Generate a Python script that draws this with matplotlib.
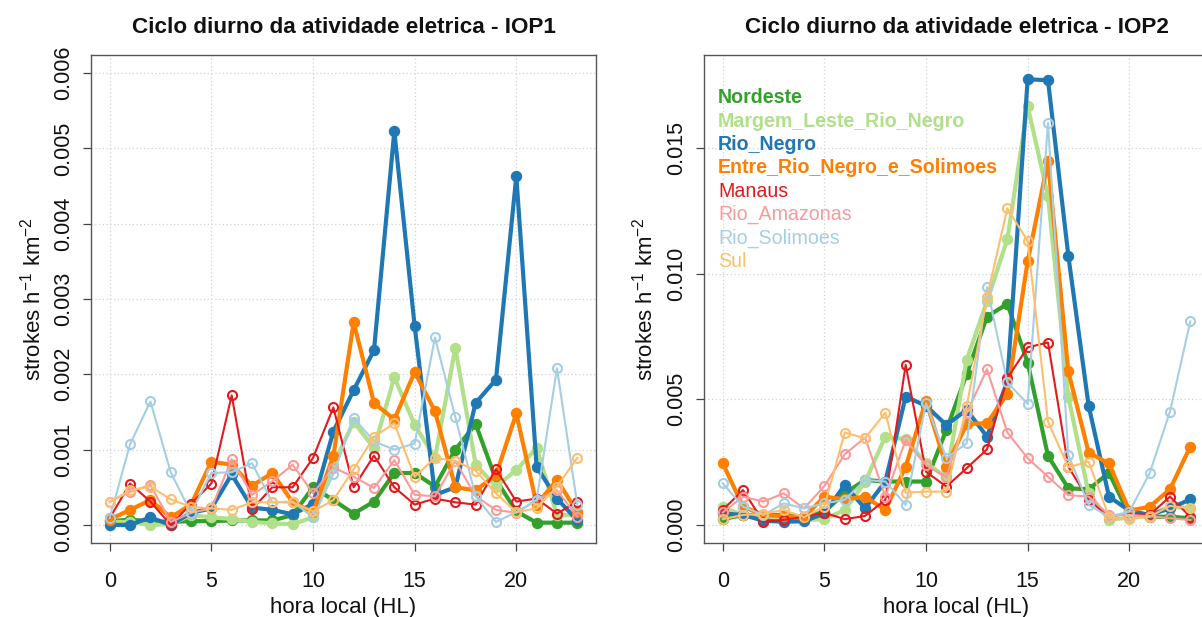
import numpy as np
import matplotlib
matplotlib.use('Agg')
import matplotlib.pyplot as plt

plt.rcParams['font.family'] = ['Liberation Sans', 'DejaVu Sans']
plt.rcParams['mathtext.default'] = 'regular'

# horas locais
horas = list(range(24))

regioes = ['Nordeste', 'Margem_Leste_Rio_Negro', 'Rio_Negro',
           'Entre_Rio_Negro_e_Solimoes', 'Manaus', 'Rio_Amazonas',
           'Rio_Solimoes', 'Sul']
cores = ['#33A02C', '#B2DF8A', '#1F78B4', '#FF7F00',
         '#E31A1C', '#FB9A99', '#A6CEE3', '#FDBF6F']

# IOP1 (strokes h-1 km-2)
iop1_nordeste = [0.00005, 0.00007, 0.00005, 0.00004, 0.00005, 0.00005, 0.00006, 0.00006,
                 0.00006, 0.00013, 0.00050, 0.00033, 0.00015, 0.00031, 0.00069, 0.00069,
                 0.00051, 0.00100, 0.00134, 0.00060, 0.00018, 0.00003, 0.00003, 0.00003]
iop1_margem = [0.00004, 0.00004, 0.00000, 0.00001, 0.00013, 0.00010, 0.00008, 0.00004,
               0.00002, 0.00001, 0.00010, 0.00080, 0.00137, 0.00102, 0.00196, 0.00133,
               0.00089, 0.00235, 0.00080, 0.00051, 0.00073, 0.00102, 0.00013, 0.00013]
iop1_rio_negro = [0.00000, 0.00000, 0.00010, 0.00000, 0.00016, 0.00022, 0.00067, 0.00023,
                  0.00020, 0.00014, 0.00028, 0.00124, 0.00179, 0.00232, 0.00523, 0.00264,
                  0.00040, 0.00050, 0.00162, 0.00193, 0.00463, 0.00077, 0.00035, 0.00006]
iop1_entre = [0.00007, 0.00020, 0.00033, 0.00010, 0.00027, 0.00084, 0.00080, 0.00052,
              0.00069, 0.00030, 0.00017, 0.00091, 0.00269, 0.00162, 0.00140, 0.00203,
              0.00151, 0.00050, 0.00046, 0.00066, 0.00148, 0.00027, 0.00060, 0.00017]
iop1_manaus = [0.00009, 0.00055, 0.00031, 0.00000, 0.00028, 0.00055, 0.00172, 0.00021,
               0.00050, 0.00050, 0.00089, 0.00156, 0.00050, 0.00092, 0.00050, 0.00027,
               0.00035, 0.00030, 0.00027, 0.00074, 0.00031, 0.00035, 0.00015, 0.00031]
iop1_amazonas = [0.00031, 0.00044, 0.00053, 0.00004, 0.00016, 0.00022, 0.00087, 0.00040,
                 0.00058, 0.00080, 0.00042, 0.00076, 0.00064, 0.00049, 0.00086, 0.00040,
                 0.00038, 0.00085, 0.00038, 0.00020, 0.00016, 0.00033, 0.00046, 0.00011]
iop1_solimoes = [0.00009, 0.00107, 0.00164, 0.00070, 0.00016, 0.00069, 0.00070, 0.00082,
                 0.00030, 0.00031, 0.00010, 0.00067, 0.00142, 0.00111, 0.00100, 0.00108,
                 0.00249, 0.00143, 0.00038, 0.00004, 0.00017, 0.00033, 0.00208, 0.00027]
iop1_sul = [0.00030, 0.00046, 0.00051, 0.00034, 0.00024, 0.00022, 0.00020, 0.00030,
            0.00030, 0.00030, 0.00018, 0.00033, 0.00074, 0.00117, 0.00135, 0.00064,
            0.00089, 0.00085, 0.00072, 0.00042, 0.00017, 0.00022, 0.00051, 0.00089]

# IOP2
iop2_nordeste = [0.00023, 0.00040, 0.00040, 0.00040, 0.00030, 0.00053, 0.00126, 0.00179,
                 0.00173, 0.00173, 0.00173, 0.00378, 0.00600, 0.00829, 0.00880, 0.00646,
                 0.00275, 0.00146, 0.00142, 0.00208, 0.00040, 0.00033, 0.00033, 0.00027]
iop2_margem = [0.00070, 0.00040, 0.00030, 0.00030, 0.00020, 0.00023, 0.00060, 0.00170,
               0.00352, 0.00341, 0.00245, 0.00192, 0.00657, 0.00890, 0.01137, 0.01667,
               0.01308, 0.00510, 0.00126, 0.00020, 0.00030, 0.00040, 0.00073, 0.00066]
iop2_rio_negro = [0.00046, 0.00040, 0.00017, 0.00013, 0.00015, 0.00046, 0.00159, 0.00066,
                  0.00173, 0.00511, 0.00474, 0.00398, 0.00458, 0.00352, 0.00571, 0.01773,
                  0.01770, 0.01072, 0.00474, 0.00113, 0.00057, 0.00040, 0.00066, 0.00102]
iop2_entre = [0.00246, 0.00073, 0.00040, 0.00035, 0.00031, 0.00113, 0.00102, 0.00113,
              0.00060, 0.00232, 0.00495, 0.00232, 0.00402, 0.00405, 0.00522, 0.01049,
              0.01448, 0.00611, 0.00288, 0.00245, 0.00057, 0.00073, 0.00142, 0.00312]
iop2_manaus = [0.00060, 0.00139, 0.00013, 0.00020, 0.00033, 0.00049, 0.00023, 0.00036,
               0.00100, 0.00637, 0.00212, 0.00153, 0.00226, 0.00301, 0.00584, 0.00707,
               0.00726, 0.00232, 0.00100, 0.00033, 0.00046, 0.00040, 0.00113, 0.00033]
iop2_amazonas = [0.00050, 0.00113, 0.00093, 0.00126, 0.00066, 0.00155, 0.00281, 0.00348,
                 0.00113, 0.00338, 0.00239, 0.00190, 0.00445, 0.00620, 0.00368, 0.00266,
                 0.00192, 0.00119, 0.00113, 0.00040, 0.00040, 0.00035, 0.00027, 0.00020]
iop2_solimoes = [0.00166, 0.00073, 0.00040, 0.00086, 0.00066, 0.00086, 0.00100, 0.00179,
                 0.00173, 0.00080, 0.00484, 0.00266, 0.00325, 0.00946, 0.00567, 0.00482,
                 0.01600, 0.00279, 0.00080, 0.00033, 0.00053, 0.00206, 0.00451, 0.00810]
iop2_sul = [0.00023, 0.00040, 0.00045, 0.00060, 0.00031, 0.00073, 0.00368, 0.00345,
            0.00447, 0.00129, 0.00133, 0.00133, 0.00472, 0.00906, 0.01260, 0.01130,
            0.00411, 0.00230, 0.00252, 0.00033, 0.00023, 0.00033, 0.00076, 0.00066]

iop1 = [iop1_nordeste, iop1_margem, iop1_rio_negro, iop1_entre,
        iop1_manaus, iop1_amazonas, iop1_solimoes, iop1_sul]
iop2 = [iop2_nordeste, iop2_margem, iop2_rio_negro, iop2_entre,
        iop2_manaus, iop2_amazonas, iop2_solimoes, iop2_sul]

W, H = 1202, 617
fig = plt.figure(figsize=(W / 100, H / 100), dpi=100)
fig.patch.set_facecolor('white')


def px_axes(x0, x1, ytop, ybot):
    return fig.add_axes([x0 / W, 1 - ybot / H, (x1 - x0) / W, (ybot - ytop) / H])


ax1 = px_axes(91, 596, 55, 543)
ax2 = px_axes(704, 1209, 55, 543)


def desenha(ax, series, titulo, yticks, ylabels, ylim):
    for i, (ys, cor) in enumerate(zip(series, cores)):
        if i < 4:
            ax.plot(horas, ys, color=cor, lw=3.0, marker='o', ms=7.2,
                    mfc=cor, mec=cor, zorder=3)
        else:
            ax.plot(horas, ys, color=cor, lw=1.5, marker='o', ms=6.5,
                    mfc='none', mec=cor, mew=1.5, zorder=3)
    ax.set_xlim(-0.92, 23.92)
    ax.set_ylim(*ylim)
    ax.set_xticks([0, 5, 10, 15, 20])
    ax.set_yticks(yticks)
    ax.set_yticklabels(ylabels, rotation=90, va='center')
    # grid pontilhado estilo R
    for x in [0, 5, 10, 15, 20]:
        ax.axvline(x, color='#d3d3d3', lw=0.9, ls=(0, (1, 2)), zorder=1)
    for y in yticks:
        ax.axhline(y, color='#d3d3d3', lw=0.9, ls=(0, (1, 2)), zorder=1)
    ax.tick_params(axis='both', direction='out', length=6, width=0.9,
                   color='#444444', labelsize=15.5, labelcolor='#111111')
    ax.tick_params(axis='x', pad=14.5)
    ax.tick_params(axis='y', pad=6)
    for sp in ax.spines.values():
        sp.set_color('#555555')
        sp.set_linewidth(1.0)
    ax.set_title(titulo, fontsize=16.2, fontweight='bold', color='#111111', pad=16)
    ax.set_xlabel('hora local (HL)', fontsize=16, color='#111111', labelpad=3)
    ax.set_ylabel(r'strokes h$^{-1}$ km$^{-2}$', fontsize=16, color='#111111', labelpad=6)


desenha(ax1, iop1, 'Ciclo diurno da atividade eletrica - IOP1',
        [0, 0.001, 0.002, 0.003, 0.004, 0.005, 0.006],
        ['0.000', '0.001', '0.002', '0.003', '0.004', '0.005', '0.006'],
        (-0.00024, 0.00624))
desenha(ax2, iop2, 'Ciclo diurno da atividade eletrica - IOP2',
        [0, 0.005, 0.010, 0.015],
        ['0.000', '0.005', '0.010', '0.015'],
        (-0.000716, 0.0187))

# legenda só com texto colorido
for i, (nome, cor) in enumerate(zip(regioes, cores)):
    ax2.text(0.028, 0.912 - i * 0.0478, nome, transform=ax2.transAxes,
             color=cor, fontsize=14.1, fontweight='bold' if i < 4 else 'normal',
             ha='left', va='center', zorder=5)

fig.savefig('out.png', dpi=100, facecolor='white')
